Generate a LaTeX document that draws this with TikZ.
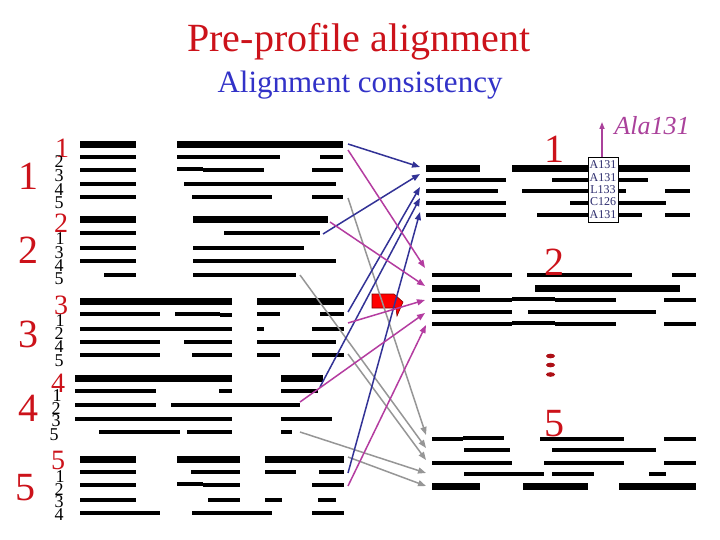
\documentclass[tikz,border=0pt]{standalone}
\usepackage{fontspec}
\setmainfont{Liberation Serif}
\usetikzlibrary{arrows.meta}
\definecolor{tred}{RGB}{204,18,26}
\definecolor{tblue}{RGB}{50,50,200}
\definecolor{aBlue}{RGB}{50,50,150}
\definecolor{aMag}{RGB}{180,60,160}
\definecolor{aGray}{RGB}{150,150,150}
\definecolor{boxtxt}{RGB}{45,45,110}
\definecolor{apurple}{RGB}{170,65,155}
\newcommand\barrow[3]{\foreach \a/\b in {#3} \draw[line width=#2pt] (\a,#1) -- (\b,#1);}
\tikzset{
  bigred/.style={text=tred, font=\fontsize{40}{44}\selectfont, inner sep=0pt},
  midred/.style={text=tred, font=\fontsize{28}{30}\selectfont, inner sep=0pt},
  smallblk/.style={text=black, font=\fontsize{18}{18}\selectfont, inner sep=0pt},
  conn/.style={line width=1.5pt, -{Triangle[length=8pt,width=6pt]}},
}
\begin{document}
\begin{tikzpicture}[x=1pt,y=-1pt]
\useasboundingbox (0,0) rectangle (720,540);
\fill[white] (0,0) rectangle (720,540);

% titles
\node[text=tred, font=\fontsize{40}{42}\selectfont, anchor=base, inner sep=0pt] (title) at (359,52) {Pre-profile alignment};
\node[text=tblue, font=\fontsize{31}{33}\selectfont, anchor=base, inner sep=0pt] (subtitle) at (360,93) {Alignment consistency};

% left bars
\barrow{144.5}{7}{80/136,177/343}
\barrow{157}{4}{80/136,177/280,320/343}
\barrow{169.5}{4}{177/203}
\barrow{170.5}{4}{80/136,203/264,312/343}
\barrow{184.5}{4}{80/136,184/336}
\barrow{197.5}{4}{80/136,192/272,312/343}
\barrow{220}{7}{80/136,193/328}
\barrow{233}{4}{80/136,224/320}
\barrow{247.5}{4}{80/136,193/304}
\barrow{261}{4}{80/136,193/336}
\barrow{275}{4}{104/136,193/296}
\barrow{301.5}{7}{80/232,257/344}
\barrow{314}{4}{80/160,175/220,257/280,320/344}
\barrow{315}{4}{220/232}
\barrow{329}{4}{80/232,257/264,312/344}
\barrow{341.5}{4}{80/160,184/232,257/336}
\barrow{355}{4}{80/160,192/232,257/280,312/344}
\barrow{378.5}{7}{75/232,281/323}
\barrow{391}{4}{75/156,219/232,281/318}
\barrow{405}{4}{75/156,171/300}
\barrow{419}{4}{75/232,281/332}
\barrow{431.5}{4}{99/180,187/232,281/292}
\barrow{459.5}{7}{80/136,177/240,265/344}
\barrow{472}{4}{80/136,191/240,265/296,319/344}
\barrow{484}{4}{177/203}
\barrow{485}{4}{80/136,203/240,312/344}
\barrow{500}{4}{80/136,208/240,265/282,318/336}
\barrow{513}{4}{80/160,192/272,312/344}

% right bars
\barrow{168.5}{7}{426/480,512/690}
\barrow{180}{4}{426/506,552/648}
\barrow{191.5}{4}{426/498,522/626,665/690}
\barrow{203}{4}{426/506,570/666}
\barrow{215}{4}{426/506,537/642,665/690}
\barrow{275}{4}{432/512,527/632,672/696}
\barrow{288.5}{7}{432/480,535/680}
\barrow{300}{4}{432/512,555/616,664/696}
\barrow{299}{4}{512/555}
\barrow{311.5}{4}{432/512,528/656}
\barrow{323.5}{4}{432/512,555/616,664/696}
\barrow{322.5}{4}{512/555}
\barrow{439}{4}{432/463,540/624,664/696}
\barrow{438}{4}{463/504}
\barrow{450}{4}{464/510,552/656}
\barrow{462.5}{4}{432/512,544/624,664/696}
\barrow{473.5}{4}{464/544,552/594,649/666}
\barrow{486.5}{7}{432/480,523/588,619/696}

% big labels
\node[bigred] (L1) at (29,176) {1};
\node[bigred] (L2) at (28,250) {2};
\node[bigred] (L3) at (28,334) {3};
\node[bigred] (L4) at (28,408) {4};
\node[bigred] (L5) at (25,488) {5};

% small labels
\node[midred] (s11) at (62,148) {1};
\node[smallblk] (s12) at (59,161.5) {2};
\node[smallblk] (s13) at (59,176) {3};
\node[smallblk] (s14) at (59,190) {4};
\node[smallblk] (s15) at (59,203) {5};
\node[midred] (s22) at (61,223) {2};
\node[smallblk] (s21) at (60,238.5) {1};
\node[smallblk] (s23) at (59,253) {3};
\node[smallblk] (s24) at (59,266) {4};
\node[smallblk] (s25) at (59,279) {5};
\node[midred] (s33) at (61,305) {3};
\node[smallblk] (s31) at (60,321) {1};
\node[smallblk] (s32) at (59,334) {2};
\node[smallblk] (s34) at (59,347) {4};
\node[smallblk] (s35) at (59,361) {5};
\node[midred] (s44) at (58,383) {4};
\node[smallblk] (s41) at (57,396) {1};
\node[smallblk] (s42) at (56,409) {2};
\node[smallblk] (s43) at (56,421) {3};
\node[smallblk] (s45) at (54,435) {5};
\node[midred] (s55) at (58,460) {5};
\node[smallblk] (s51) at (60,477) {1};
\node[smallblk] (s52) at (59,490) {2};
\node[smallblk] (s53) at (59,502) {3};
\node[smallblk] (s54) at (59,515) {4};

% right labels
\node[bigred] (R1) at (554,149) {1};
\node[bigred] (R2) at (554,262) {2};
\node[bigred] (R5) at (554,424) {5};
\foreach \y/\n in {356/d1,365/d2,374.5/d3}
  \fill[tred!85!black] (550.5,\y) ellipse [x radius=4.5, y radius=2.3];

% red block arrow
\filldraw[fill=red, draw=red!50!black, line width=0.6pt] (372,294) -- (394,294) -- (403,302) -- (397,316) -- (396,308) -- (372,308) -- cycle;

% connectors
\coordinate (b1s) at (348,144); \coordinate (b1e) at (420,167);
\coordinate (b2s) at (323,234); \coordinate (b2e) at (420,174);
\coordinate (b3s) at (348,312); \coordinate (b3e) at (420,187);
\coordinate (b4s) at (320,387); \coordinate (b4e) at (420,198);
\coordinate (b5s) at (348,473); \coordinate (b5e) at (420,212);
\coordinate (m1s) at (348,150); \coordinate (m1e) at (425,268);
\coordinate (m2s) at (330,222); \coordinate (m2e) at (425,286);
\coordinate (m3s) at (348,323); \coordinate (m3e) at (425,300);
\coordinate (m4s) at (300,402); \coordinate (m4e) at (425,313);
\coordinate (m5s) at (348,486); \coordinate (m5e) at (426,325);
\coordinate (g1s) at (348,198); \coordinate (g1e) at (426,435);
\coordinate (g2s) at (300,275); \coordinate (g2e) at (426,448);
\coordinate (g3s) at (348,354); \coordinate (g3e) at (426,460);
\coordinate (g4s) at (300,432); \coordinate (g4e) at (426,473);
\coordinate (g5s) at (348,457); \coordinate (g5e) at (426,486);
\foreach \n in {g1,g2,g3,g4,g5} \draw[conn, aGray] (\n s) -- (\n e);
\foreach \n in {b1,b2,b3,b4,b5} \draw[conn, aBlue] (\n s) -- (\n e);
\foreach \n in {m1,m2,m3,m4,m5} \draw[conn, aMag] (\n s) -- (\n e);

% residue box
\node[draw=black, fill=white, line width=0.8pt, inner sep=1pt, minimum width=30pt, minimum height=65pt, text=boxtxt, font=\fontsize{12}{12.4}\selectfont, align=center] (box) at (603,189.5) {A131\\A131\\L133\\C126\\A131};
\coordinate (alaTip) at (602,122);
\draw[apurple, line width=1.5pt, -{Triangle[length=7pt,width=5pt]}] (box.north -| alaTip) -- (alaTip);
\node[text=apurple, font=\fontsize{26}{28}\itshape, inner sep=0pt] (ala) at (652,126) {Ala131};
\end{tikzpicture}
\end{document}
